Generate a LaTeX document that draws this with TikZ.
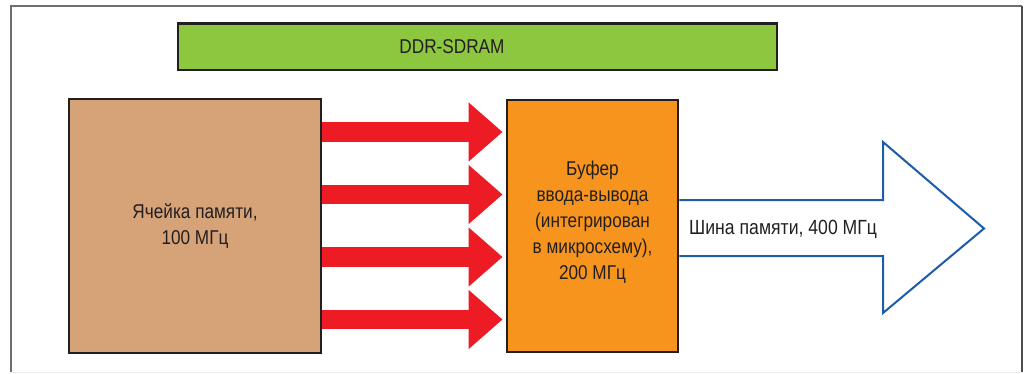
\documentclass[tikz,border=0pt]{standalone}
\usepackage{fontspec}
\setmainfont[FakeStretch=0.86]{Liberation Sans}
\usetikzlibrary{arrows.meta}
\definecolor{frameG}{HTML}{6E6E6E}
\definecolor{edgeK}{HTML}{231F20}
\definecolor{chipG}{HTML}{8DC63F}
\definecolor{cellB}{HTML}{D6A378}
\definecolor{bufO}{HTML}{F7941D}
\definecolor{busR}{HTML}{ED1C24}
\definecolor{busB}{HTML}{1C5CA8}
\definecolor{textK}{HTML}{231F20}
\tikzset{
  blockbox/.style={draw=edgeK, line width=2.8pt, inner sep=0pt},
  lbl/.style={text=textK, font=\fontsize{20}{26}\selectfont, align=center, inner sep=0pt},
  fatarrow/.style={busR, line width=19.5pt,
    -{Triangle[length=34pt,width=57pt]}, shorten >=3pt},
  busline/.style={busB, line width=2pt, line join=miter},
}
\begin{document}
\begin{tikzpicture}[x=1pt,y=-1pt]
\useasboundingbox (0,0) rectangle (1027,374);
% outer frame
\draw[frameG, line width=2pt] (11,372) -- (11,6) -- (1022,6);
\draw[edgeK!80, line width=1.5pt] (1022,6) -- (1022,372);
\draw[black!8, line width=1pt] (11,372) -- (1022,372);
% chip band
\node[blockbox, fill=chipG, minimum width=599pt, minimum height=46.5pt]
  (chip) at (477.5,46.75) {};
\node[lbl] (chipl) at ([xshift=-25.5pt]chip.center) {DDR-SDRAM};
% memory cell
\node[blockbox, fill=cellB, minimum width=252pt, minimum height=254pt]
  (cell) at (195,226) {};
\node[lbl] (celll) at (cell.center) {Ячейка памяти,\\100 МГц};
% I/O buffer
\node[blockbox, fill=bufO, minimum width=171pt, minimum height=252pt]
  (buf) at (592.5,226) {};
\node[lbl] (bufl) at ([yshift=4pt]buf.center)
  {Буфер\\ввода-вывода\\(интегрирован\\в микросхему),\\200 МГц};
% four internal paths
\foreach \yy in {132,194.5,257,319.5}
  \draw[fatarrow] (cell.east |- 0,\yy) -- (buf.west |- 0,\yy);
% memory bus arrow
\coordinate (s1) at (buf.east |- 0,200);
\coordinate (s2) at (883,200);
\coordinate (h1) at (883,142);
\coordinate (tip) at (984,228.5);
\coordinate (h2) at (883,313);
\coordinate (s3) at (883,256);
\coordinate (s4) at (buf.east |- 0,256);
\draw[busline] (s1) -- (s2) -- (h1) -- (tip) -- (h2) -- (s3) -- (s4);
\node[lbl, anchor=west, font=\fontsize{20.5}{24}\selectfont]
  (busl) at (689,229) {Шина памяти, 400 МГц};
\end{tikzpicture}
\end{document}
